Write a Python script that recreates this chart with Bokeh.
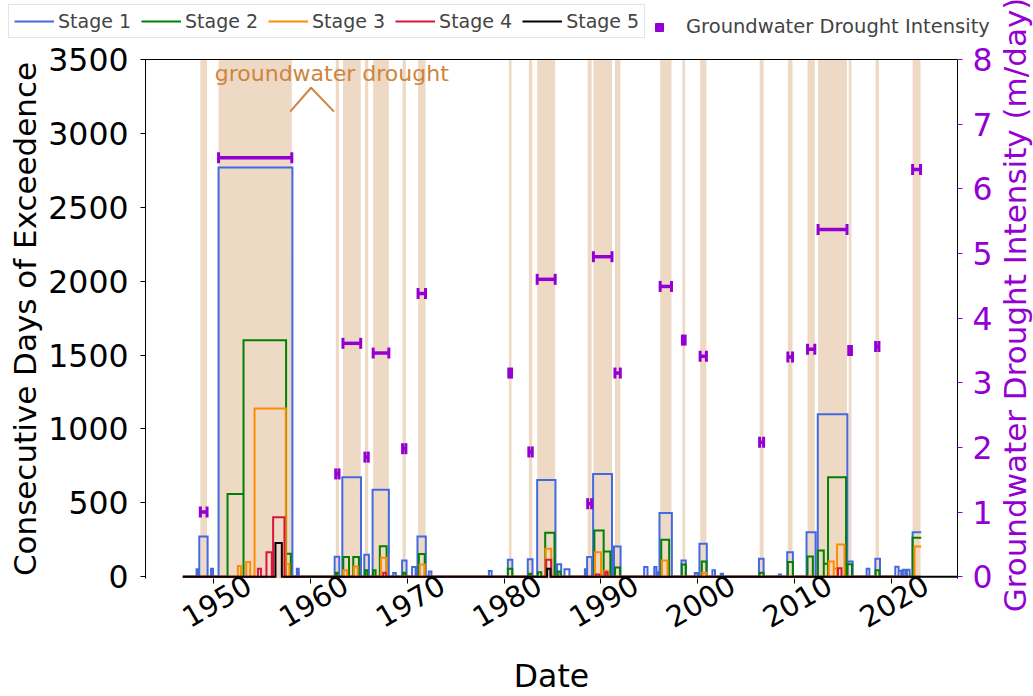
import math
from bokeh.plotting import figure
from bokeh.layouts import column, row
from bokeh.models import (Range1d, LinearAxis, FixedTicker, ColumnDataSource, Legend,
                          LegendItem, Label, CustomJSTickFormatter)
from bokeh.embed import file_html
from bokeh.resources import INLINE

# ---- drought periods: start / end (decimal year) and intensity (m/day) ----
drought_start = [1948.61, 1950.49, 1962.60, 1963.35, 1965.62, 1966.47, 1969.51, 1971.11,
                 1980.49, 1982.56, 1983.42, 1988.64, 1989.23, 1991.46, 1996.13, 1998.43,
                 2000.26, 2006.41, 2009.33, 2011.36, 2012.45, 2015.62, 2018.40, 2022.22]
drought_end = [1949.30, 1958.06, 1962.94, 1965.18, 1965.96, 1968.09, 1969.85, 1971.88,
               1980.77, 1982.91, 1985.28, 1989.05, 1991.15, 1992.01, 1997.30, 1998.71,
               2000.91, 2006.82, 2009.81, 2012.11, 2015.44, 2015.90, 2018.74, 2023.04]
drought_intensity = [1.00, 6.48, 1.59, 3.61, 1.85, 3.46, 1.98, 4.38,
                     3.15, 1.93, 4.60, 1.13, 4.95, 3.15, 4.49, 3.66,
                     3.41, 2.08, 3.40, 3.52, 5.37, 3.50, 3.56, 6.30]

# ---- exceedence events per stage: start, end (decimal year), consecutive days ----
record_start = 1946.8
record_end = 2023.11   # events reaching this date are still ongoing

s1_start = [1948.22, 1948.50, 1949.71, 1950.49, 1958.58, 1962.49, 1963.28, 1965.55, 1966.41,
            1968.54, 1969.46, 1970.49, 1971.05, 1972.22, 1978.43, 1980.39, 1982.45, 1983.42,
            1985.48, 1986.24, 1988.35, 1988.58, 1989.20, 1991.36, 1994.48, 1995.52, 1995.80,
            1996.06, 1998.33, 1999.71, 2000.19, 2001.53, 2002.39, 2006.34, 2008.40, 2009.26,
            2011.26, 2012.42, 2015.52, 2017.47, 2018.37, 2020.43, 2020.77, 2021.22, 2021.63,
            2022.22]
s1_end = [1948.40, 1949.36, 1949.92, 1958.12, 1958.78, 1962.97, 1965.21, 1966.03, 1968.09,
          1968.81, 1969.92, 1970.85, 1971.91, 1972.49, 1978.71, 1980.85, 1982.94, 1985.31,
          1985.90, 1986.75, 1988.55, 1989.09, 1991.15, 1992.04, 1994.82, 1995.75, 1996.00,
          1997.34, 1998.78, 1999.98, 2000.95, 2001.80, 2002.63, 2006.82, 2008.61, 2009.85,
          2012.19, 2015.48, 2016.03, 2017.75, 2018.85, 2020.77, 2021.05, 2021.46, 2021.91,
          2023.11]
s1_days = [50, 272, 54, 2770, 54, 135, 673, 148, 589,
           25, 110, 65, 272, 36, 38, 115, 119, 654,
           85, 50, 50, 133, 695, 205, 65, 65, 30,
           432, 110, 25, 223, 43, 20, 121, 15, 166,
           301, 1100, 103, 54, 121, 67, 40, 47, 47,
           301]

s2_start = [1951.42, 1953.07, 1957.47, 1962.60, 1963.38, 1964.41, 1965.62, 1966.47, 1967.16,
            1969.57, 1971.19, 1980.39, 1982.56, 1983.49, 1984.25, 1985.55, 1989.33, 1990.29,
            1991.46, 1996.24, 1998.37, 2000.43, 2006.41, 2009.33, 2011.36, 2012.42, 2013.04,
            2013.48, 2015.44, 2018.40, 2022.22]
s2_end = [1953.07, 1957.47, 1957.96, 1962.80, 1963.97, 1965.00, 1965.86, 1966.72, 1967.86,
          1969.81, 1971.80, 1980.85, 1982.80, 1983.84, 1985.21, 1985.82, 1990.29, 1990.98,
          1991.98, 1997.06, 1998.78, 2000.91, 2006.82, 2009.85, 2011.91, 2013.04, 2013.48,
          2015.34, 2015.96, 2018.78, 2023.11]
s2_days = [560, 1600, 155, 27, 133, 133, 43, 43, 207,
           27, 153, 54, 20, 30, 297, 35, 313, 171,
           63, 250, 83, 103, 27, 99, 137, 178, 88,
           673, 85, 43, 263]

s3_start = [1952.49, 1953.35, 1954.21, 1957.44, 1963.38, 1964.48, 1967.27, 1971.29, 1984.28,
            1989.40, 1990.36, 1996.31, 2000.50, 2013.56, 2014.07, 2014.41, 2022.42]
s3_end = [1952.80, 1953.76, 1957.44, 1957.81, 1963.79, 1964.87, 1967.86, 1971.80, 1984.87,
          1990.02, 1990.70, 1996.89, 2000.91, 2014.07, 2014.41, 2015.18, 2023.11]
s3_days = [72, 99, 1138, 88, 43, 70, 128, 83, 189,
           166, 40, 110, 27, 103, 54, 218, 205]

s4_start = [1954.56, 1955.44, 1956.13, 1967.51, 1984.35, 1989.51, 1990.46, 2014.51]
s4_end = [1954.87, 1956.00, 1957.30, 1967.78, 1984.87, 1989.85, 1990.70, 2014.87]
s4_days = [54, 166, 403, 27, 115, 15, 30, 58]

s5_start = [1956.37, 1984.45]
s5_end = [1957.03, 1984.79]
s5_days = [229, 54]

stage_labels = ["Stage 1", "Stage 2", "Stage 3", "Stage 4", "Stage 5"]
stage_colors = ["#4169E1", "#008000", "#FF8C00", "#DC143C", "#000000"]
intensity_label = "Groundwater Drought Intensity"
intensity_axis_label = "Groundwater Drought Intensity (m/day)"

x_ticks = [1950, 1960, 1970, 1980, 1990, 2000, 2010, 2020]
days_ticks = [0, 500, 1000, 1500, 2000, 2500, 3000, 3500]
intensity_ticks = [0, 1, 2, 3, 4, 5, 6, 7, 8]

PURPLE = "#9400D3"
BAND = "#EED9C4"
PERU = "#CD853F"
FONT = "DejaVu Sans"

X_MIN, X_MAX = 1942.94, 2026.86
DAYS_MIN, DAYS_MAX = -12, 3500          # small pad keeps the zero line fully visible
INT_MAX = 8
INT_MIN = DAYS_MIN / DAYS_MAX * INT_MAX  # keeps both zeros level
LABEL_SHIFT = 3.6   # years: centres the slanted year labels under their ticks

W, H = 1033, 696
LEGEND_H = 40
FRAME_TOP = 59
SIDE_W = 38          # strip holding the right-hand axis title
MAIN_W = W - SIDE_W


def stairs(starts, ends, days, x_last):
    """Step outline for a run of events; ongoing events stay up at the end."""
    xs, ys = [record_start], [0]
    ongoing = False
    for s, e, d in zip(starts, ends, days):
        xs += [s, s]
        ys += [0, d]
        if e >= record_end:
            xs.append(e)
            ys.append(d)
            ongoing = True
        else:
            xs += [e, e]
            ys += [d, 0]
    if not ongoing:
        xs.append(x_last)
        ys.append(0)
    return xs, ys


def bare(width, height):
    f = figure(width=width, height=height, output_backend="svg", toolbar_location=None,
               x_axis_type=None, y_axis_type=None, x_range=Range1d(0, 1),
               y_range=Range1d(0, 1), min_border=0, outline_line_color=None)
    f.xgrid.visible = False
    f.ygrid.visible = False
    try:
        f.frame_align = False
    except AttributeError:
        pass
    return f


# ---------------- legend strip ----------------
lg = bare(MAIN_W, LEGEND_H)
nan = float("nan")
proxies = [lg.line(x=[nan], y=[nan], line_color=c, line_width=2) for c in stage_colors]
int_proxy = lg.scatter(x=[nan], y=[nan], marker="square", size=9, color=PURPLE)

leg1 = Legend(items=[LegendItem(label=lab, renderers=[r]) for lab, r in zip(stage_labels, proxies)],
              orientation="horizontal", location=(8, LEGEND_H - 38),
              label_text_font=FONT, label_text_font_size="19px",
              glyph_width=40, glyph_height=20, label_standoff=4, spacing=10,
              padding=5, margin=0, border_line_color="#cccccc",
              background_fill_color="white", background_fill_alpha=1.0)
leg2 = Legend(items=[LegendItem(label=intensity_label, renderers=[int_proxy])],
              orientation="horizontal", location=(648, LEGEND_H - 38),
              label_text_font=FONT, label_text_font_size="19.5px",
              glyph_width=22, glyph_height=20, label_standoff=16,
              padding=5, margin=0, border_line_color=None, background_fill_alpha=0)
lg.add_layout(leg1)
lg.add_layout(leg2)

# ---------------- main chart ----------------
p = figure(width=MAIN_W, height=H - LEGEND_H, output_backend="svg", toolbar_location=None,
           x_range=Range1d(X_MIN, X_MAX), y_range=Range1d(DAYS_MIN, DAYS_MAX),
           min_border_left=145, min_border_right=MAIN_W - 959,
           min_border_top=FRAME_TOP - LEGEND_H, min_border_bottom=116)
p.extra_y_ranges = {"intensity": Range1d(INT_MIN, INT_MAX)}
p.outline_line_color = None
p.xgrid.grid_line_color = None
p.ygrid.grid_line_color = None

# drought periods as shaded bands
p.quad(left=drought_start, right=drought_end, bottom=DAYS_MIN, top=DAYS_MAX,
       fill_color=BAND, line_color=None)

# stage step outlines
stage_data = [(s1_start, s1_end, s1_days), (s2_start, s2_end, s2_days),
              (s3_start, s3_end, s3_days), (s4_start, s4_end, s4_days),
              (s5_start, s5_end, s5_days)]
for i, (st, en, dy) in enumerate(stage_data):
    x_last = X_MAX if i == 4 else record_end
    xs, ys = stairs(st, en, dy, x_last)
    p.line(xs, ys, line_color=stage_colors[i], line_width=2, line_join="miter")

# drought intensity as horizontal error bars with end caps
int_src = ColumnDataSource(dict(start=drought_start, end=drought_end, inten=drought_intensity))
p.segment(x0="start", x1="end", y0="inten", y1="inten", source=int_src,
          line_color=PURPLE, line_width=3.5, y_range_name="intensity")
for col in ("start", "end"):
    p.scatter(x=col, y="inten", source=int_src, marker="dash", angle=math.pi / 2,
              size=11, line_color=PURPLE, line_width=3, y_range_name="intensity")

# annotation
p.add_layout(Label(x=1950.1, y=3408, text="groundwater drought", text_color=PERU,
                   text_font=FONT, text_font_size="22px", text_baseline="middle"))
p.line([1957.89, 1960.05, 1962.42], [3147, 3309, 3147], line_color=PERU, line_width=2)

# bottom axis: tick marks only
xa = p.xaxis[0]
xa.ticker = FixedTicker(ticks=x_ticks)
xa.formatter = CustomJSTickFormatter(code="return '';")
xa.axis_line_color = None
xa.major_tick_out = 5
xa.major_tick_in = 0
xa.minor_tick_line_color = None
xa.major_label_text_font_size = "1px"
xa.major_label_standoff = 0

# year labels, slanted and centred under the ticks
xl = LinearAxis(ticker=FixedTicker(ticks=[t + LABEL_SHIFT for t in x_ticks]),
                formatter=CustomJSTickFormatter(args=dict(shift=LABEL_SHIFT),
                                                code="return String(Math.round(tick - shift));"))
xl.axis_line_color = None
xl.major_tick_line_color = None
xl.minor_tick_line_color = None
xl.major_label_orientation = math.pi / 6
xl.major_label_text_font = FONT
xl.major_label_text_font_size = "29px"
xl.major_label_text_color = "black"
xl.major_label_standoff = -7
xl.axis_label = "Date"
xl.axis_label_text_font = FONT
xl.axis_label_text_font_size = "31.5px"
xl.axis_label_text_font_style = "normal"
xl.axis_label_text_color = "black"
xl.axis_label_standoff = 17
p.add_layout(xl, "below")

ya = p.yaxis[0]
ya.ticker = FixedTicker(ticks=days_ticks)
ya.axis_line_color = "black"
ya.major_tick_out = 5
ya.major_tick_in = 0
ya.minor_tick_line_color = None
ya.major_label_text_font = FONT
ya.major_label_text_font_size = "31.5px"
ya.major_label_text_color = "black"
ya.major_label_standoff = 12
ya.axis_label = "Consecutive Days of Exceedence"
ya.axis_label_text_font = FONT
ya.axis_label_text_font_size = "31px"
ya.axis_label_text_font_style = "normal"
ya.axis_label_text_color = "black"
ya.axis_label_standoff = 2

ra = LinearAxis(y_range_name="intensity", ticker=FixedTicker(ticks=intensity_ticks))
ra.axis_line_color = "black"
ra.major_tick_line_color = PURPLE
ra.major_tick_out = 5
ra.major_tick_in = 0
ra.minor_tick_line_color = None
ra.major_label_text_color = PURPLE
ra.major_label_text_font = FONT
ra.major_label_text_font_size = "31.5px"
ra.major_label_standoff = 10
p.add_layout(ra, "right")

top = LinearAxis(ticker=FixedTicker(ticks=[]))
top.axis_line_color = "black"
top.major_tick_line_color = None
top.minor_tick_line_color = None
top.major_label_standoff = 0
p.add_layout(top, "above")

# ---------------- right-hand axis title ----------------
side = bare(SIDE_W, H)
side.add_layout(Label(x=SIDE_W / 2, y=H - (FRAME_TOP + 578) / 2 + 14,
                      x_units="screen", y_units="screen",
                      text=intensity_axis_label, angle=math.pi / 2,
                      text_align="center", text_baseline="middle", text_color=PURPLE,
                      text_font=FONT, text_font_size="31px"))

layout = row(column(lg, p, spacing=0), side, spacing=0)
open("out.html", "w").write(file_html(layout, INLINE))
